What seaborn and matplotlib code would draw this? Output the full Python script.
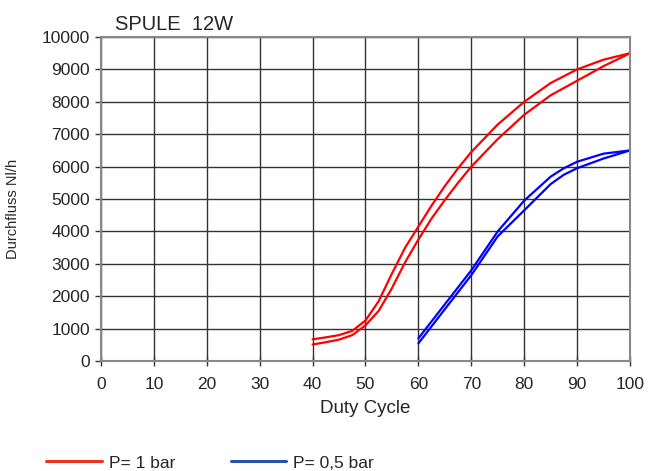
import matplotlib
matplotlib.use("Agg")
import matplotlib.pyplot as plt
import seaborn as sns
import pandas as pd

# Duty cycle (%) vs flow (Nl/h), two branches per pressure (hysteresis)
duty_red = [40, 42.5, 45, 47.5, 50, 52.5, 55, 57.5, 60, 62.5, 65, 67.5, 70, 75, 80, 85, 90, 95, 100]
red_up = [670, 730, 800, 930, 1250, 1850, 2700, 3500, 4150, 4800, 5400, 5950, 6450, 7300, 8000, 8580, 9000, 9300, 9500]
red_down = [510, 580, 660, 800, 1100, 1550, 2250, 3050, 3750, 4400, 4970, 5500, 6000, 6850, 7600, 8200, 8650, 9100, 9500]

duty_blue = [60, 65, 70, 75, 80, 85, 87.5, 90, 95, 100]
blue_up = [700, 1750, 2800, 4000, 4950, 5690, 5950, 6150, 6400, 6500]
blue_down = [545, 1600, 2650, 3850, 4650, 5460, 5750, 5950, 6250, 6500]

sns.set_style("white")
plt.rcParams["font.family"] = ["Liberation Sans", "DejaVu Sans"]

fig = plt.figure(figsize=(6.49, 4.71), dpi=100)
ax = fig.add_axes([0.1556, 0.2335, 0.8151, 0.6879])

red = pd.DataFrame({"duty": duty_red * 2, "flow": red_up + red_down,
                    "branch": ["a"] * len(duty_red) + ["b"] * len(duty_red)})
blue = pd.DataFrame({"duty": duty_blue * 2, "flow": blue_up + blue_down,
                     "branch": ["a"] * len(duty_blue) + ["b"] * len(duty_blue)})

for b in ["a", "b"]:
    sns.lineplot(data=red[red.branch == b], x="duty", y="flow", color="#ff0000",
                 lw=1.6, sort=False, ax=ax, legend=False)
for b in ["a", "b"]:
    sns.lineplot(data=blue[blue.branch == b], x="duty", y="flow", color="#0000ff",
                 lw=1.6, sort=False, ax=ax, legend=False)

ax.set_xlim(0, 100)
ax.set_ylim(0, 10000)
ax.set_xticks(range(0, 101, 10))
ax.set_yticks(range(0, 10001, 1000))
ax.grid(True, color="#333333", lw=1.0)
ax.set_axisbelow(True)
for s in ax.spines.values():
    s.set_color("#888888")
    s.set_linewidth(1.5)
ax.tick_params(axis="x", direction="inout", length=7, width=1, color="#333333",
               labelsize=12.5, bottom=True, pad=8)
ax.tick_params(axis="y", direction="out", length=4, width=1, color="#333333",
               labelsize=12.5, left=True, pad=4)
ax.set_xlabel("Duty Cycle", fontsize=13.5, labelpad=6)
ax.set_ylabel("Durchfluss Nl/h", fontsize=10.5)
ax.yaxis.set_label_coords(-0.153, 0.47)
ax.set_title("SPULE  12W", fontsize=14.5, loc="left", x=0.026, pad=5)

handles = [plt.Line2D([], [], color="#ee3322", lw=2.2),
           plt.Line2D([], [], color="#2255aa", lw=2.2)]
fig.legend(handles, ["P= 1 bar", "P= 0,5 bar"], loc="center", bbox_to_anchor=(0.324, 0.017),
           ncol=2, frameon=False, fontsize=12.5, handlelength=3.2, columnspacing=3.2,
           handletextpad=0.4)

fig.savefig("out.png", dpi=100)
